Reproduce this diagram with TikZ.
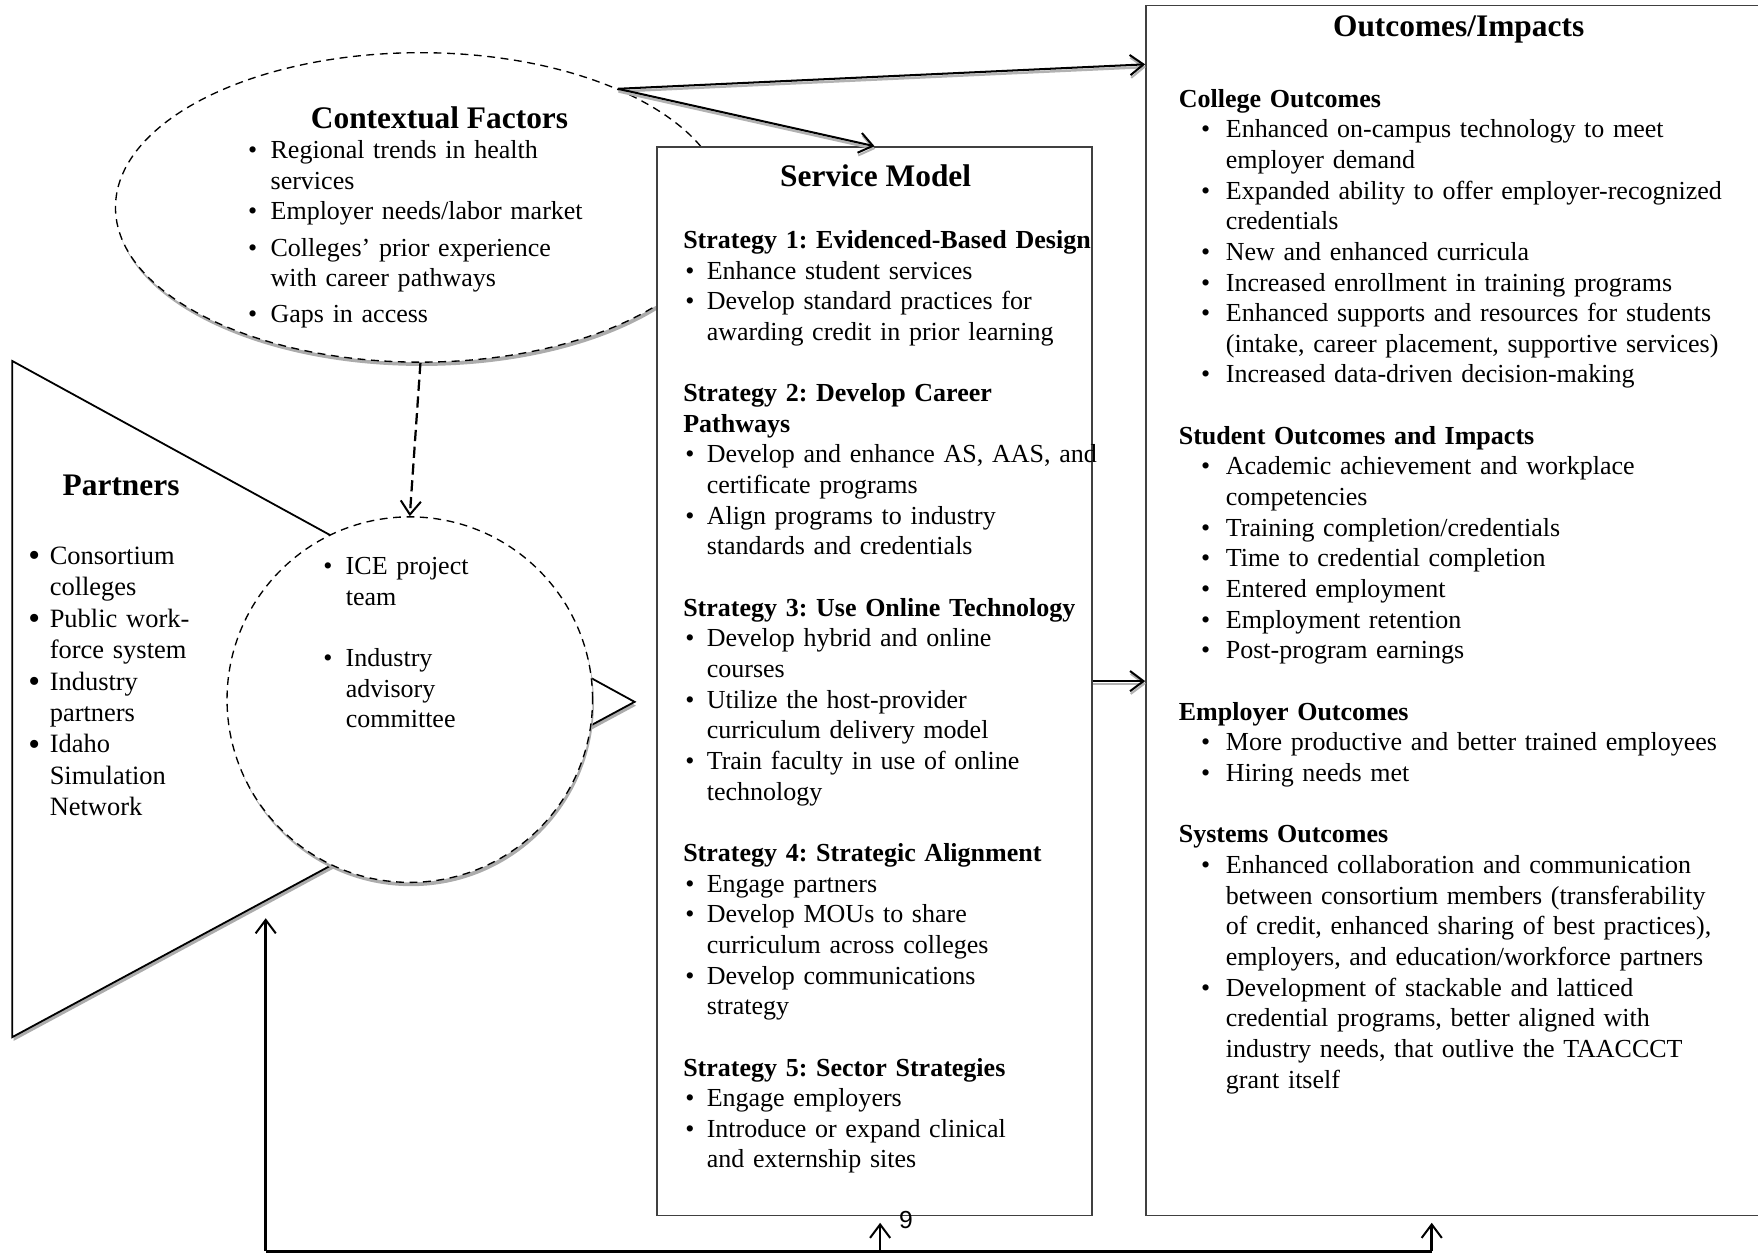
\documentclass[tikz,border=0pt]{standalone}
\usepackage{fontspec}
\setmainfont{Liberation Serif}
\newfontfamily\pgnumfont{Liberation Sans}
\usetikzlibrary{arrows.meta,shapes.geometric,shadows}
\frenchspacing

\newlength\bulo
\newlength\bulw
\newcommand{\bl}{\hspace*{\bulo}\makebox[\bulw][l]{\textbullet}}
\newcommand{\blb}{\hspace*{\bulo}\makebox[\bulw][l]{\raisebox{-1pt}{\fontsize{15}{15}\selectfont\textbullet}}}
\newcommand{\ind}{\hspace*{\dimexpr\bulo+\bulw\relax}}

\tikzset{
    bodytext/.style={font=\fontsize{11.6}{13.67}\selectfont, inner sep=0pt,
        anchor=north west, text width=#1, align=left},
    bodytext/.default=300pt,
    titletext/.style={font=\fontsize{14}{16}\selectfont\bfseries, inner sep=0pt},
    bullets/.style 2 args={execute at begin node={\setlength\bulo{#1}\setlength\bulw{#2}}},
    shadowed/.style={drop shadow={shadow xshift=0.6pt, shadow yshift=-1.7pt,
        fill=gray!65, opacity=1}},
    dashborder/.style={draw, fill=white, line width=0.6pt, dash pattern=on 3.5pt off 2.5pt},
    panel/.style={draw=black!75, fill=white, line width=0.6pt, rectangle, inner sep=0pt},
    tip/.style={-{Straight Barb[length=6pt,width=9pt,line width=0.9pt]}},
    arr/.style={tip, line width=0.9pt,
        preaction={draw=gray!60, line width=1.1pt, tip,
            transform canvas={xshift=0.3pt, yshift=-1.2pt}}},
    dasharr/.style={tip, line width=1pt, dash pattern=on 5pt off 2.5pt},
    fb/.style={line width=1.2pt},
    fbarr/.style={tip, line width=1.2pt, shorten >=3pt}
}

\begin{document}
\begin{tikzpicture}[x=0.5pt, y=-0.5pt]
    \useasboundingbox (0,0) rectangle (1568,1118);

    % contextual factors
    \node[ellipse, dashborder, shadowed, minimum width=272pt, minimum height=138pt,
        inner sep=0pt] (ctx) at (375,185) {};

    % partners
    \filldraw[fill=white, draw=black, line width=0.8pt, shadowed]
        (11,322) -- (11,925) -- (566,626) -- cycle;
    \node[circle, dashborder, shadowed, minimum size=163pt, inner sep=0pt]
        (team) at (365.5,624) {};
    \draw[dasharr] (ctx.south) -- (team.north);

    % the two panels
    \node[panel, minimum width=194pt, minimum height=476.5pt] (svc) at (780,607.5) {};
    \node[panel, minimum width=289pt, minimum height=539.5pt] (out) at (1311,544.5) {};

    \draw[arr] (ctx.31) -- ([yshift=-26.5pt]out.north west);
    \draw[arr] (ctx.31) -- (svc.north);
    \draw[arr] (svc.east) -- (svc.east -| out.west);

    % texts
    \node[titletext] (ctxtitle) at (392,105) {Contextual Factors};
    \node[bodytext, bullets={0pt}{10pt}] (ctxlist) at (221,122) {\strut
        \bl Regional trends in health\\
        \ind services\\
        \bl Employer needs/labor market\\[2.4pt]
        \bl Colleges' prior experience\\
        \ind with career pathways\\[2.4pt]
        \bl Gaps in access};

    \node[titletext] (parttitle) at (108,433) {Partners};
    \node[bodytext, font=\fontsize{11.8}{14}\selectfont, bullets={0pt}{9.5pt}]
        (partlist) at (25,483.5) {\strut
        \blb Consortium\\
        \ind colleges\\
        \blb Public work-\\
        \ind force system\\
        \blb Industry\\
        \ind partners\\
        \blb Idaho\\
        \ind Simulation\\
        \ind Network};

    \node[bodytext, bullets={0pt}{10pt}] (teamlist) at (288,493) {\strut
        \bl ICE project\\
        \ind team\\[\baselineskip]
        \bl Industry\\
        \ind advisory\\
        \ind committee};

    \node[titletext] (svctitle) at (781,157) {Service Model};
    \node[bodytext, bullets={1pt}{9.5pt}] (svclist) at (609,202) {\strut
        \textbf{Strategy 1: Evidenced-Based Design}\\
        \bl Enhance student services\\
        \bl Develop standard practices for\\
        \ind awarding credit in prior learning\\[\baselineskip]
        \textbf{Strategy 2: Develop Career}\\
        \textbf{Pathways}\\
        \bl Develop and enhance AS, AAS, and\\
        \ind certificate programs\\
        \bl Align programs to industry\\
        \ind standards and credentials\\[\baselineskip]
        \textbf{Strategy 3: Use Online Technology}\\
        \bl Develop hybrid and online\\
        \ind courses\\
        \bl Utilize the host-provider\\
        \ind curriculum delivery model\\
        \bl Train faculty in use of online\\
        \ind technology\\[\baselineskip]
        \textbf{Strategy 4: Strategic Alignment}\\
        \bl Engage partners\\
        \bl Develop MOUs to share\\
        \ind curriculum across colleges\\
        \bl Develop communications\\
        \ind strategy\\[\baselineskip]
        \textbf{Strategy 5: Sector Strategies}\\
        \bl Engage employers\\
        \bl Introduce or expand clinical\\
        \ind and externship sites};

    \node[titletext] (outtitle) at (1301,26) {Outcomes/Impacts};
    \node[bodytext, bullets={10pt}{11pt}] (outlist) at (1051,76) {\strut
        \textbf{College Outcomes}\\
        \bl Enhanced on-campus technology to meet\\
        \ind employer demand\\
        \bl Expanded ability to offer employer-recognized\\
        \ind credentials\\
        \bl New and enhanced curricula\\
        \bl Increased enrollment in training programs\\
        \bl Enhanced supports and resources for students\\
        \ind (intake, career placement, supportive services)\\
        \bl Increased data-driven decision-making\\[\baselineskip]
        \textbf{Student Outcomes and Impacts}\\
        \bl Academic achievement and workplace\\
        \ind competencies\\
        \bl Training completion/credentials\\
        \bl Time to credential completion\\
        \bl Entered employment\\
        \bl Employment retention\\
        \bl Post-program earnings\\[\baselineskip]
        \textbf{Employer Outcomes}\\
        \bl More productive and better trained employees\\
        \bl Hiring needs met\\[\baselineskip]
        \textbf{Systems Outcomes}\\
        \bl Enhanced collaboration and communication\\
        \ind between consortium members (transferability\\
        \ind of credit, enhanced sharing of best practices),\\
        \ind employers, and education/workforce partners\\
        \bl Development of stackable and latticed\\
        \ind credential programs, better aligned with\\
        \ind industry needs, that outlive the TAACCCT\\
        \ind grant itself};

    % feedback loop
    \coordinate (fbl) at (237,1116);
    \coordinate (fbm) at (785,1116);
    \coordinate (fbr) at (1277,1116);
    \coordinate (parthit) at (237,819);
    \draw[fb] (fbl) -- (fbr);
    \draw[fbarr, shorten >=0pt] (fbl) -- (parthit);
    \draw[fbarr] (fbm) -- (fbm |- svc.south);
    \draw[fbarr] (fbr) -- (fbr |- out.south);

    \node[font=\pgnumfont\fontsize{11}{11}\selectfont, inner sep=0pt] (pgno) at (808,1088) {9};
\end{tikzpicture}
\end{document}
